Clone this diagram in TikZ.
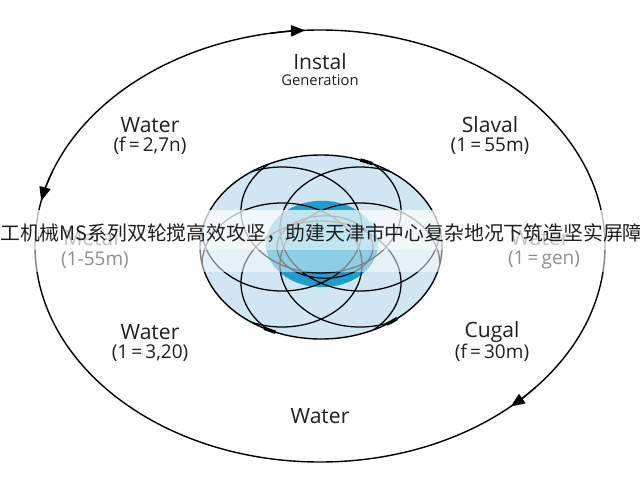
\documentclass[tikz,border=0pt]{standalone}
\usepackage{fontspec}
\setmainfont{Open Sans}
\newfontfamily\cjkfont{Noto Sans CJK SC}
\usepackage{xcolor}
\usepackage{tikz}
\usetikzlibrary{arrows.meta}
\definecolor{globeblue}{RGB}{208,230,242}
\definecolor{coreblue}{RGB}{30,158,204}
\definecolor{inktext}{RGB}{30,30,30}

\begin{document}
\begin{tikzpicture}[
  ring/.style={line width=1pt},
  ringtip/.style={line width=1pt,-{Triangle[length=10pt,width=8pt]}},
  petal/.style={line width=0.9pt},
  title/.style={font=\fontsize{15}{18}\selectfont,text=inktext,inner sep=1pt},
  sub/.style={font=\fontsize{13.5}{16}\selectfont,text=inktext,inner sep=1pt},
]
\useasboundingbox (0,0) rectangle (16,12);
\fill[white] (0,0) rectangle (16,12);
% outer ring and its arrows
\coordinate (ringc) at (8,5.85);
\draw[ring] (ringc) ellipse [x radius=7.125, y radius=5.4];
\draw[ringtip] (ringc) ++(100:7.125cm and 5.4cm) arc[start angle=100,end angle=93,x radius=7.125,y radius=5.4];
\draw[ringtip] (ringc) ++(160:7.125cm and 5.4cm) arc[start angle=160,end angle=168,x radius=7.125,y radius=5.4];
\draw[ringtip] (ringc) ++(319:7.125cm and 5.4cm) arc[start angle=319,end angle=312,x radius=7.125,y radius=5.4];
% globe
\coordinate (globec) at (8.025,5.825);
\fill[globeblue] (globec) ellipse [x radius=3.025, y radius=2.3];
\fill[coreblue] (8.05,5.9) ellipse [x radius=1.4, y radius=1.08];
\begin{scope}
  \clip (globec) ellipse [x radius=3.025, y radius=2.3];
  \foreach \a in {30,90,...,330}
    \draw[petal] (globec) ++(\a:1.125cm and 0.9cm) ellipse [x radius=2, y radius=1.55];
\end{scope}
\draw[petal] (8.125,5.825) ellipse [x radius=1.2, y radius=0.78];
\draw[line width=1pt] (globec) ellipse [x radius=3.025, y radius=2.3];
\draw[line width=2.4pt] (globec) ++(65:3.025cm and 2.3cm) arc[start angle=65,end angle=71,x radius=3.025,y radius=2.3];
\draw[line width=2.4pt] (globec) ++(242:3.025cm and 2.3cm) arc[start angle=242,end angle=248,x radius=3.025,y radius=2.3];
\draw[line width=2.4pt] (globec) ++(303:3.025cm and 2.3cm) arc[start angle=303,end angle=309,x radius=3.025,y radius=2.3];
% labels
\node[title] (instal) at (8,10.45) {Instal};
\node[font=\fontsize{10.5}{12}\selectfont,text=inktext,inner sep=1pt] (gen) at (8,10.0) {Generation};
\node[title] (watertl) at (3.75,8.875) {Water};
\node[sub] (watertlf) at (3.75,8.35) {(f\,=\,2,7n)};
\node[title] (slaval) at (12.25,8.875) {Slaval};
\node[sub] (slavalf) at (12.25,8.35) {(1\,=\,55m)};
\node[title] (metal) at (2.275,6.05) {Metal};
\node[sub] (metalf) at (2.375,5.5) {(1-55m)};
\node[title] (waterr) at (13.5,6.05) {Water};
\node[sub] (waterrf) at (13.6,5.5) {(1\,=\,gen)};
\node[title] (waterbl) at (3.75,3.7) {Water};
\node[sub] (waterblf) at (3.75,3.175) {(1\,=\,3,20)};
\node[title] (cugal) at (12.3,3.7) {Cugal};
\node[sub] (cugalf) at (12.3,3.175) {(f\,=\,30m)};
\node[title] (waterb) at (8,1.6) {Water};
% banner
\fill[white,opacity=0.5] (0,5.2) rectangle (16,6.75);
\fill[white,opacity=0.45] (0,5.75) rectangle (16,6.75);
\node[anchor=west,inner sep=0pt,font=\cjkfont\fontsize{14.1}{16}\selectfont,text=inktext] (banner) at (0,6.175) {工机械MS系列双轮搅高效攻坚，助建天津市中心复杂地况下筑造坚实屏障};
\end{tikzpicture}
\end{document}
